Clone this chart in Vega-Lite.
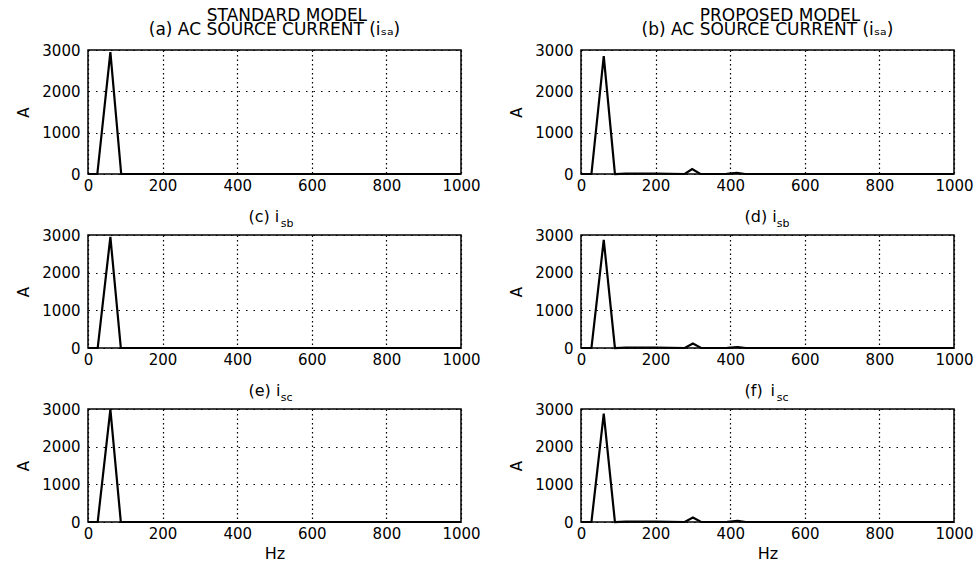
{
  "$schema": "https://vega.github.io/schema/vega-lite/v6.json",
  "background": "white",
  "autosize": {"type": "pad"},
  "padding": {"left": 16, "top": 5, "right": 0, "bottom": 0},
  "datasets": {
    "a": [{"hz": 0, "amp": 0}, {"hz": 25, "amp": 0}, {"hz": 60, "amp": 2950}, {"hz": 89, "amp": 0}, {"hz": 1000, "amp": 0}],
    "c": [{"hz": 0, "amp": 0}, {"hz": 26, "amp": 0}, {"hz": 60, "amp": 2950}, {"hz": 88, "amp": 0}, {"hz": 1000, "amp": 0}],
    "e": [{"hz": 0, "amp": 0}, {"hz": 26, "amp": 0}, {"hz": 60, "amp": 2990}, {"hz": 88, "amp": 0}, {"hz": 1000, "amp": 0}],
    "b": [{"hz": 0, "amp": 0}, {"hz": 28, "amp": 0}, {"hz": 61, "amp": 2850}, {"hz": 91, "amp": 0}, {"hz": 120, "amp": 10}, {"hz": 200, "amp": 8}, {"hz": 278, "amp": 0}, {"hz": 298, "amp": 120}, {"hz": 320, "amp": 0}, {"hz": 390, "amp": 5}, {"hz": 418, "amp": 25}, {"hz": 440, "amp": 0}, {"hz": 1000, "amp": 0}],
    "d": [{"hz": 0, "amp": 0}, {"hz": 28, "amp": 0}, {"hz": 61, "amp": 2870}, {"hz": 91, "amp": 0}, {"hz": 120, "amp": 10}, {"hz": 200, "amp": 8}, {"hz": 278, "amp": 0}, {"hz": 300, "amp": 118}, {"hz": 322, "amp": 0}, {"hz": 392, "amp": 5}, {"hz": 420, "amp": 25}, {"hz": 442, "amp": 0}, {"hz": 1000, "amp": 0}],
    "f": [{"hz": 0, "amp": 0}, {"hz": 28, "amp": 0}, {"hz": 61, "amp": 2880}, {"hz": 91, "amp": 0}, {"hz": 120, "amp": 10}, {"hz": 200, "amp": 8}, {"hz": 278, "amp": 0}, {"hz": 300, "amp": 120}, {"hz": 322, "amp": 0}, {"hz": 392, "amp": 5}, {"hz": 420, "amp": 28}, {"hz": 442, "amp": 0}, {"hz": 1000, "amp": 0}]
  },
  "columns": 2,
  "align": "each",
  "bounds": "flush",
  "spacing": {"row": 61, "column": 120},
  "concat": [
    {
      "title": {"text": ["\u2800\u2800STANDARD MODEL", "(a) AC SOURCE CURRENT (i\u209B\u2090)"], "fontSize": 17, "lineHeight": 14.5, "offset": 4},
      "width": 373, "height": 124,
      "data": {"name": "a"},
      "mark": {"type": "line", "color": "black", "strokeWidth": 2.2},
      "encoding": {
        "x": {"field": "hz", "type": "quantitative", "scale": {"domain": [0, 1000], "nice": false}, "axis": {"values": [0, 200, 400, 600, 800, 1000], "format": "d", "title": null}},
        "y": {"field": "amp", "type": "quantitative", "scale": {"domain": [0, 3000], "nice": false}, "axis": {"values": [0, 1000, 2000, 3000], "format": "d", "title": "A"}}
      }
    },
    {
      "title": {"text": ["\u2800\u2800PROPOSED MODEL", "(b) AC SOURCE CURRENT (i\u209B\u2090)"], "fontSize": 17, "lineHeight": 14.5, "offset": 4},
      "width": 373, "height": 124,
      "data": {"name": "b"},
      "mark": {"type": "line", "color": "black", "strokeWidth": 2.2},
      "encoding": {
        "x": {"field": "hz", "type": "quantitative", "scale": {"domain": [0, 1000], "nice": false}, "axis": {"values": [0, 200, 400, 600, 800, 1000], "format": "d", "title": null}},
        "y": {"field": "amp", "type": "quantitative", "scale": {"domain": [0, 3000], "nice": false}, "axis": {"values": [0, 1000, 2000, 3000], "format": "d", "title": "A"}}
      }
    },
    {
      "title": {"text": "(c) i", "subtitle": "\u2800\u2800\u2800\u2800sb", "fontSize": 16, "align": "left", "dx": -26, "subtitlePadding": -7, "offset": -1},
      "width": 373, "height": 113,
      "data": {"name": "c"},
      "mark": {"type": "line", "color": "black", "strokeWidth": 2.2},
      "encoding": {
        "x": {"field": "hz", "type": "quantitative", "scale": {"domain": [0, 1000], "nice": false}, "axis": {"values": [0, 200, 400, 600, 800, 1000], "format": "d", "title": null}},
        "y": {"field": "amp", "type": "quantitative", "scale": {"domain": [0, 3000], "nice": false}, "axis": {"values": [0, 1000, 2000, 3000], "format": "d", "title": "A"}}
      }
    },
    {
      "title": {"text": "(d) i", "subtitle": "\u2800\u2800\u2800\u2800sb", "fontSize": 16, "align": "left", "dx": -23, "subtitlePadding": -7, "offset": -1},
      "width": 373, "height": 113,
      "data": {"name": "d"},
      "mark": {"type": "line", "color": "black", "strokeWidth": 2.2},
      "encoding": {
        "x": {"field": "hz", "type": "quantitative", "scale": {"domain": [0, 1000], "nice": false}, "axis": {"values": [0, 200, 400, 600, 800, 1000], "format": "d", "title": null}},
        "y": {"field": "amp", "type": "quantitative", "scale": {"domain": [0, 3000], "nice": false}, "axis": {"values": [0, 1000, 2000, 3000], "format": "d", "title": "A"}}
      }
    },
    {
      "title": {"text": "(e) i", "subtitle": "\u2800\u2800\u2800\u2800sc", "fontSize": 16, "align": "left", "dx": -26, "subtitlePadding": -7, "offset": -1},
      "width": 373, "height": 113,
      "data": {"name": "e"},
      "mark": {"type": "line", "color": "black", "strokeWidth": 2.2},
      "encoding": {
        "x": {"field": "hz", "type": "quantitative", "scale": {"domain": [0, 1000], "nice": false}, "axis": {"values": [0, 200, 400, 600, 800, 1000], "format": "d", "title": "Hz"}},
        "y": {"field": "amp", "type": "quantitative", "scale": {"domain": [0, 3000], "nice": false}, "axis": {"values": [0, 1000, 2000, 3000], "format": "d", "title": "A"}}
      }
    },
    {
      "title": {"text": "(f)\u2002i", "subtitle": "\u2800\u2800\u2800\u2800sc", "fontSize": 16, "align": "left", "dx": -23, "subtitlePadding": -7, "offset": -1},
      "width": 373, "height": 113,
      "data": {"name": "f"},
      "mark": {"type": "line", "color": "black", "strokeWidth": 2.2},
      "encoding": {
        "x": {"field": "hz", "type": "quantitative", "scale": {"domain": [0, 1000], "nice": false}, "axis": {"values": [0, 200, 400, 600, 800, 1000], "format": "d", "title": "Hz"}},
        "y": {"field": "amp", "type": "quantitative", "scale": {"domain": [0, 3000], "nice": false}, "axis": {"values": [0, 1000, 2000, 3000], "format": "d", "title": "A"}}
      }
    }
  ],
  "config": {
    "font": "DejaVu Sans",
    "view": {"stroke": "black", "strokeWidth": 1.5},
    "title": {"font": "DejaVu Sans", "fontSize": 16, "fontWeight": "normal", "color": "black", "subtitleFont": "DejaVu Sans", "subtitleFontSize": 11, "subtitleColor": "black", "anchor": "middle"},
    "axis": {
      "domain": false,
      "ticks": false,
      "labelFont": "DejaVu Sans",
      "labelFontSize": 15,
      "labelColor": "black",
      "labelFlush": false,
      "labelOverlap": false,
      "gridColor": "black",
      "gridOpacity": 1,
      "gridWidth": 1.2,
      "titleFont": "DejaVu Sans",
      "titleFontWeight": "normal",
      "titleColor": "black"
    },
    "axisX": {"gridDash": [1.5, 3], "labelPadding": 4, "titleFontSize": 16, "titlePadding": 4},
    "axisY": {"gridDash": [1.5, 6], "labelPadding": 8, "titleFontSize": 15, "titlePadding": 10}
  }
}
